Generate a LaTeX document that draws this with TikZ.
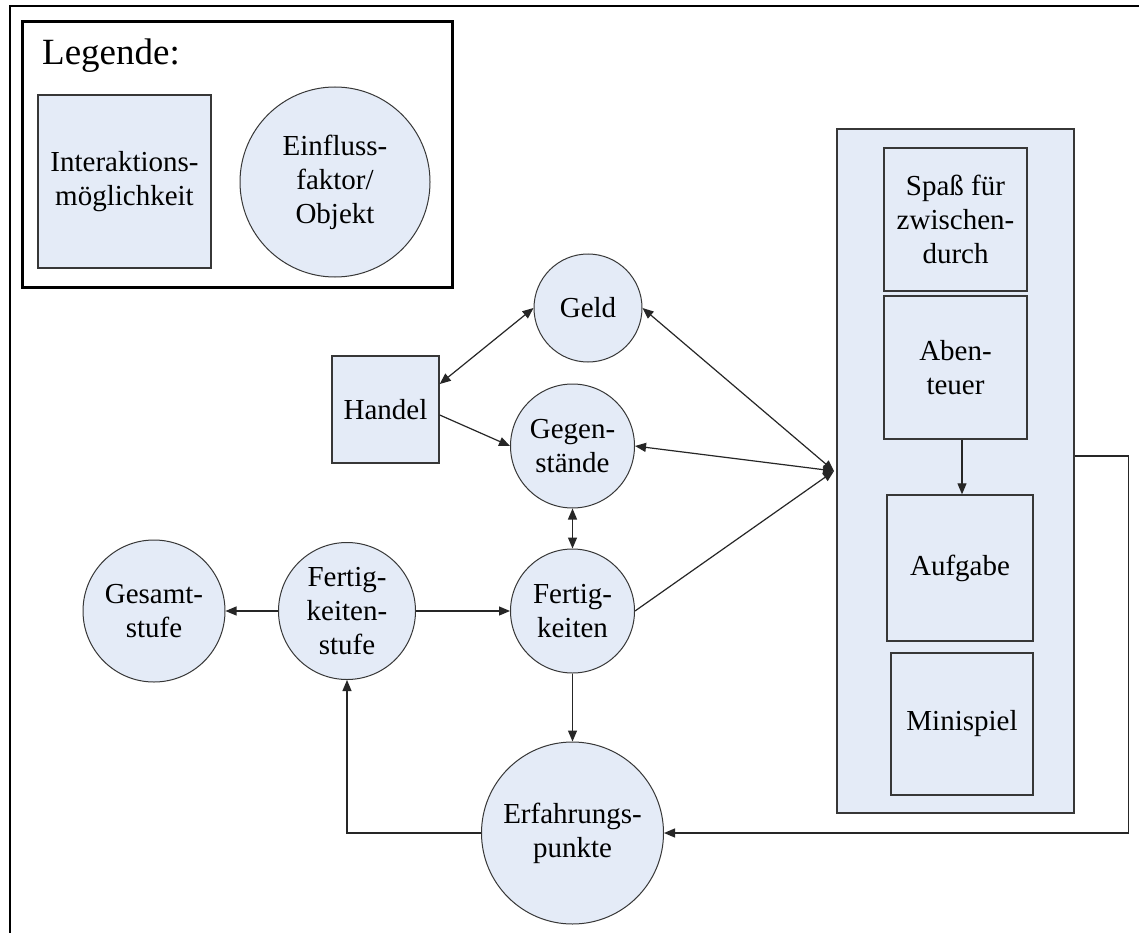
\documentclass[tikz,border=0pt]{standalone}
\usepackage{fontspec}
\setmainfont{Liberation Serif}
\usetikzlibrary{arrows.meta}
\definecolor{nodefill}{RGB}{228,235,247}
\definecolor{edgegray}{RGB}{55,55,55}
\begin{document}
\begin{tikzpicture}[x=1pt,y=-1pt,
  txt/.style={font=\fontsize{29}{34}\selectfont, align=center, text=black},
  obj/.style={txt, circle, draw=edgegray, line width=1pt, fill=nodefill, inner sep=0pt},
  act/.style={txt, rectangle, draw=edgegray, line width=1.4pt, fill=nodefill, inner sep=0pt},
  tip/.tip={Triangle[length=11pt,width=9pt]},
  link/.style={draw=black!85, line width=1.2pt, -tip},
  both/.style={draw=black!85, line width=1.2pt, tip-tip}
]
\useasboundingbox (0,0) rectangle (1139,933);
\fill[white] (0,0) rectangle (1139,933);

% page frame (only top and left edges fall inside the picture)
\draw[line width=2.5pt] (1139,6) -- (10,6) -- (10,933);

% legend
\node[draw, line width=3pt, minimum width=430pt, minimum height=265pt, inner sep=0pt] (legend) at (237,154.5) {};
\node[anchor=base west, font=\fontsize{37}{44}\selectfont, inner sep=0pt] (legtitle) at (42,65) {Legende:};
\node[act, minimum width=173pt, minimum height=173pt] (legsq) at (124.5,181.5) {Interaktions-\\möglichkeit};
\node[obj, minimum size=190pt] (legci) at (335,182) {Einfluss-\\faktor/\\Objekt};

% activity container on the right
\node[act, minimum width=237pt, minimum height=684pt] (cont) at (955.5,471) {};
\node[act, minimum width=143pt, minimum height=143pt] (spass) at (955.5,219.5) {Spaß für\\zwischen-\\durch};
\node[act, minimum width=143pt, minimum height=143pt] (aben) at (955.5,367.5) {Aben-\\teuer};
\node[act, minimum width=146pt, minimum height=146pt] (aufg) at (960,568) {Aufgabe};
\node[act, minimum width=142pt, minimum height=142pt] (mini) at (962,724) {Minispiel};

% objects and interactions
\node[act, minimum width=107pt, minimum height=107pt] (handel) at (385.5,409.5) {Handel};
\node[obj, minimum size=108pt] (geld) at (588,308) {Geld};
\node[obj, minimum size=124pt] (geg) at (572.5,446) {Gegen-\\stände};
\node[obj, minimum size=124pt] (fert) at (572.5,611) {Fertig-\\keiten};
\node[obj, minimum size=137pt] (fstufe) at (347,611) {Fertig-\\keiten-\\stufe};
\node[obj, minimum size=142pt] (gesamt) at (154,611) {Gesamt-\\stufe};
\node[obj, minimum size=182pt] (erf) at (572.5,833) {Erfahrungs-\\punkte};

\coordinate (J) at (834,471);

% connectors
\draw[both] (geld.east) -- (J);
\draw[both] (geg.east) -- (J);
\draw[link] (fert.east) -- (J);
\draw[both] ([yshift=25.5pt]handel.east) -- (geld.west);
\draw[link] ([yshift=-5.5pt]handel.east) -- (geg.west);
\draw[both] (geg.south) -- (fert.north);
\draw[link] (fstufe.west) -- (gesamt.east);
\draw[link] (fstufe.east) -- (fert.west);
\draw[link] (fert.south) -- (erf.north);
\draw[link] (erf.west) -| (fstufe.south);
\draw[link] ([yshift=15pt]cont.east) -- ++(54,0) |- (erf.east);
\draw[link] ([xshift=6.5pt]aben.south) -- ([xshift=2pt]aufg.north);
\end{tikzpicture}
\end{document}
